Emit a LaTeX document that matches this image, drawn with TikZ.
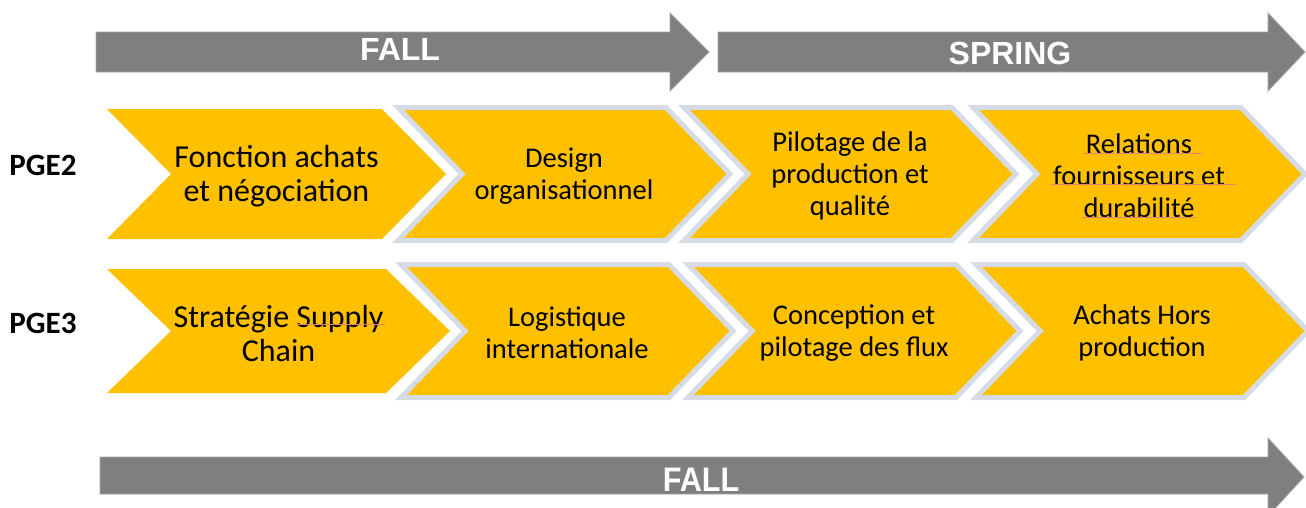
\documentclass[tikz,border=0pt]{standalone}
\usepackage{fontspec}
\setmainfont{Carlito}
\newfontfamily\arrowfont{Liberation Sans}
\definecolor{gold}{HTML}{FFC000}
\definecolor{arrowgrey}{HTML}{7F7F7F}
\definecolor{edgeblue}{HTML}{D6DCE5}
\definecolor{squiggle}{HTML}{E9826A}
\tikzset{
  chevplain/.style={fill=gold},
  chevframed/.style={fill=gold, draw=edgeblue, line width=5pt, line join=miter},
  bar/.style={fill=arrowgrey, draw=arrowgrey!70!white, line width=0.8pt},
  barlabel/.style={text=white, font=\arrowfont\bfseries\fontsize{32}{36}\selectfont, anchor=base, inner sep=0pt},
  biglabel/.style={align=center, font=\fontsize{32}{34}\selectfont},
  steplabel/.style={align=center, font=\fontsize{28.5}{32}\selectfont},
  rowlabel/.style={font=\bfseries\fontsize{31}{34}\selectfont, anchor=base, inner sep=0pt},
  spell/.style={draw=squiggle, line width=0.8pt}
}
\begin{document}
\begin{tikzpicture}[x=1pt,y=-1pt]
\useasboundingbox (0,0) rectangle (1306,507);
\clip (0,0) rectangle (1306,507);
\fill[white] (0,0) rectangle (1306,507);

% season arrows
\path[bar] (96,32) -- (670,32) -- (670,13) -- (709,52) -- (670,91) -- (670,72) -- (96,72) -- cycle;
\path[bar] (718,32) -- (1268,32) -- (1268,13) -- (1305,52) -- (1268,91) -- (1268,72) -- (718,72) -- cycle;
\path[bar] (100,457) -- (1268,457) -- (1268,438) -- (1304,477) -- (1268,516) -- (1268,494) -- (100,494) -- cycle;
\node[barlabel] (fallA) at (400,60) {FALL};
\node[barlabel] (spring) at (1010,64) {SPRING};
\node[barlabel, font=\arrowfont\bfseries\fontsize{34}{38}\selectfont] (fallB) at (701,491) {\scalebox{0.9}[1]{FALL}};

% row 1 chevrons
\path[chevplain] (107,109) -- (382,109) -- (446,174) -- (382,239) -- (107,239) -- (171,174) -- cycle;
\foreach \x in {398,684,973}
  \path[chevframed] (\x,107.5) -- ({\x+268},107.5) -- ({\x+332},174) -- ({\x+268},240.5) -- (\x,240.5) -- ({\x+64},174) -- cycle;

% row 2 chevrons
\path[chevplain] (107,269) -- (386,269) -- (450,331) -- (386,393) -- (107,393) -- (171,331) -- cycle;
\foreach \x in {401,688,976}
  \path[chevframed] (\x,264.5) -- ({\x+268},264.5) -- ({\x+332},331) -- ({\x+268},397.5) -- (\x,397.5) -- ({\x+64},331) -- cycle;

% row labels
\node[rowlabel] (pge2) at (43,175) {PGE2};
\node[rowlabel] (pge3) at (43,333) {PGE3};

% chevron texts
\node[biglabel]  (a1) at (276.5,176) {Fonction achats\\et négociation};
\node[steplabel] (a2) at (564,176) {Design\\organisationnel};
\node[steplabel] (a3) at (850,176) {Pilotage de la\\production et\\qualité};
\node[steplabel] (a4) at (1139,176) {Relations\\fournisseurs et\\durabilité};
\node[biglabel]  (b1) at (278.5,333) {Stratégie Supply\\Chain};
\node[steplabel] (b2) at (567,333) {Logistique\\internationale};
\node[steplabel] (b3) at (854,333) {Conception et\\pilotage des flux};
\node[steplabel] (b4) at (1142,333) {Achats Hors\\production};

% spell-check marks
\draw[spell] (1084,153) -- (1202,153);
\draw[spell] (1051,184) -- (1236,184);
\draw[spell] (1082,217) -- (1196,217);
\draw[spell] (297,324) -- (385,324);
\end{tikzpicture}
\end{document}
